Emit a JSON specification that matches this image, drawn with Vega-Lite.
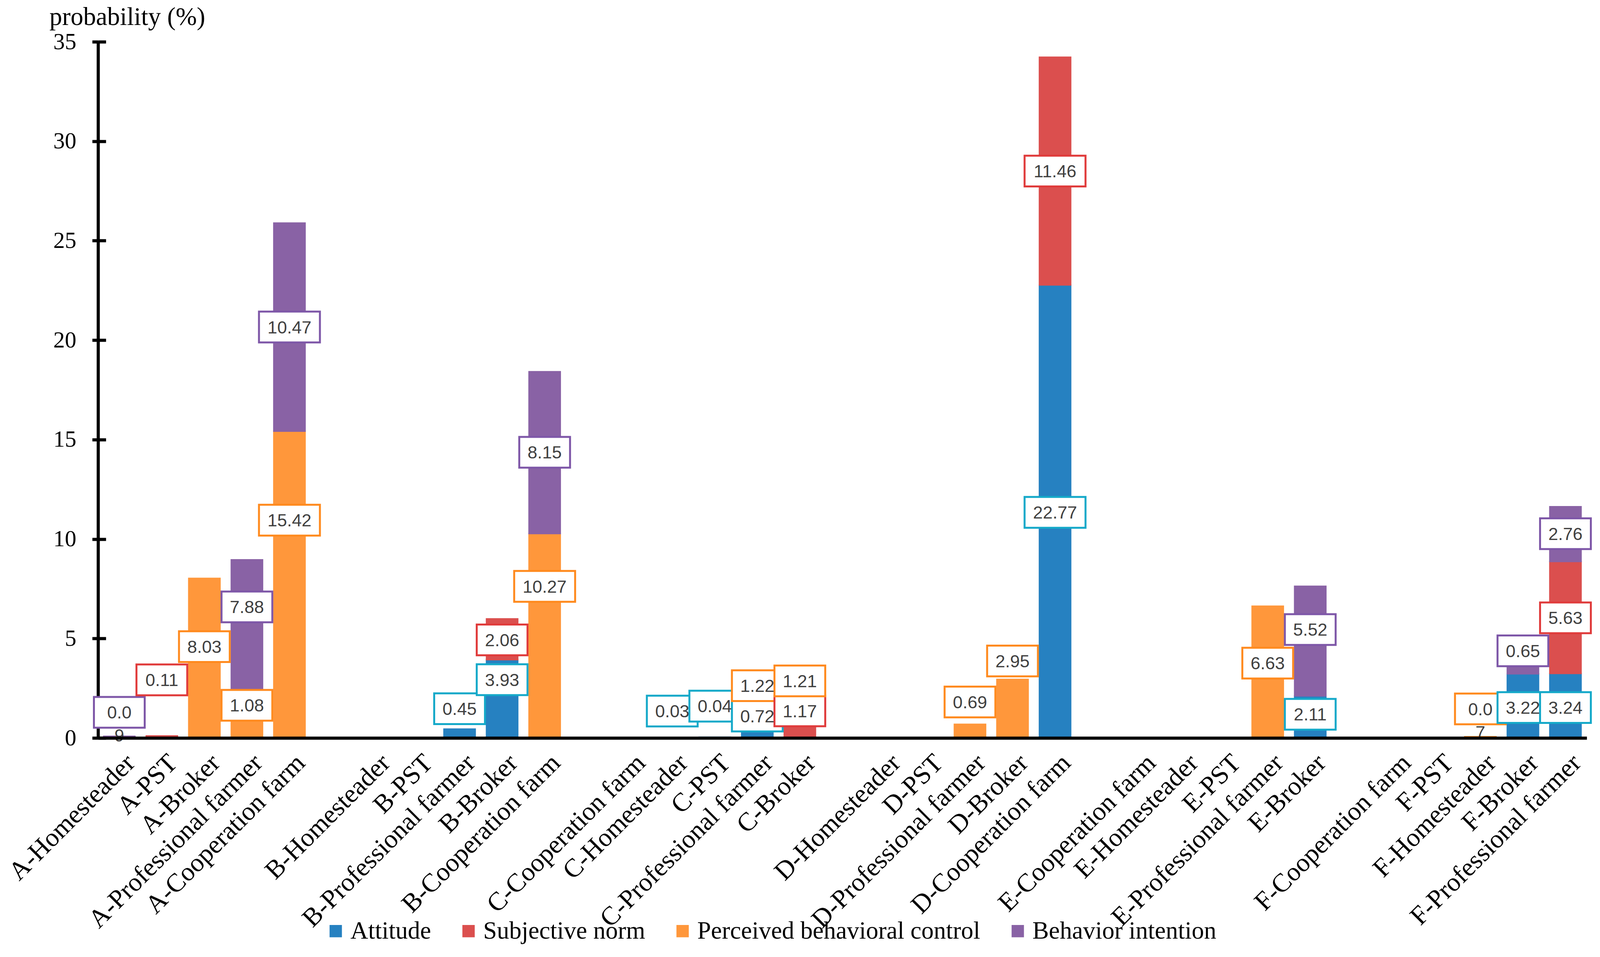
{
  "$schema": "https://vega.github.io/schema/vega-lite/v6.json",
  "width": 3811,
  "height": 1783,
  "autosize": "none",
  "padding": {"left": 251, "top": 107, "right": 35, "bottom": 532},
  "background": "white",
  "config": {
    "view": {"stroke": null},
    "font": "Liberation Serif",
    "axisY": {
      "grid": true,
      "gridColor": "black",
      "gridWidth": 8,
      "gridDash": [20, 20000],
      "gridOpacity": 1,
      "domainColor": "black",
      "domainWidth": 8,
      "tickColor": "black",
      "tickWidth": 8,
      "tickSize": 15,
      "labelFont": "Liberation Serif",
      "labelFontSize": 59,
      "labelColor": "black",
      "labelPadding": 41,
      "titleAngle": 0,
      "titleAlign": "left",
      "titleBaseline": "alphabetic",
      "titleX": -125,
      "titleY": -44,
      "titleFont": "Liberation Serif",
      "titleFontSize": 65,
      "titleFontWeight": "normal",
      "titleColor": "black",
      "zindex": 1
    }
  },
  "datasets": {
    "factors": [
      {"factor": "Attitude", "rank": 1},
      {"factor": "Subjective norm", "rank": 2},
      {"factor": "Perceived behavioral control", "rank": 3},
      {"factor": "Behavior intention", "rank": 4}
    ],
    "bars": [
      {"category": "A-Homesteader", "factor": "Behavior intention", "value": 0.09},
      {"category": "A-PST", "factor": "Subjective norm", "value": 0.11},
      {"category": "A-Broker", "factor": "Perceived behavioral control", "value": 8.03},
      {"category": "A-Professional farmer", "factor": "Perceived behavioral control", "value": 1.08},
      {"category": "A-Professional farmer", "factor": "Behavior intention", "value": 7.88},
      {"category": "A-Cooperation farm", "factor": "Perceived behavioral control", "value": 15.42},
      {"category": "A-Cooperation farm", "factor": "Behavior intention", "value": 10.47},
      {"category": "B-Professional farmer", "factor": "Attitude", "value": 0.45},
      {"category": "B-Broker", "factor": "Attitude", "value": 3.93},
      {"category": "B-Broker", "factor": "Subjective norm", "value": 2.06},
      {"category": "B-Cooperation farm", "factor": "Perceived behavioral control", "value": 10.27},
      {"category": "B-Cooperation farm", "factor": "Behavior intention", "value": 8.15},
      {"category": "C-Homesteader", "factor": "Attitude", "value": 0.03},
      {"category": "C-PST", "factor": "Attitude", "value": 0.04},
      {"category": "C-Professional farmer", "factor": "Attitude", "value": 0.72},
      {"category": "C-Professional farmer", "factor": "Perceived behavioral control", "value": 1.22},
      {"category": "C-Broker", "factor": "Subjective norm", "value": 1.17},
      {"category": "C-Broker", "factor": "Perceived behavioral control", "value": 1.21},
      {"category": "D-Professional farmer", "factor": "Perceived behavioral control", "value": 0.69},
      {"category": "D-Broker", "factor": "Perceived behavioral control", "value": 2.95},
      {"category": "D-Cooperation farm", "factor": "Attitude", "value": 22.77},
      {"category": "D-Cooperation farm", "factor": "Subjective norm", "value": 11.46},
      {"category": "E-Professional farmer", "factor": "Perceived behavioral control", "value": 6.63},
      {"category": "E-Broker", "factor": "Attitude", "value": 2.11},
      {"category": "E-Broker", "factor": "Behavior intention", "value": 5.52},
      {"category": "F-Homesteader", "factor": "Perceived behavioral control", "value": 0.07},
      {"category": "F-Broker", "factor": "Attitude", "value": 3.22},
      {"category": "F-Broker", "factor": "Behavior intention", "value": 0.65},
      {"category": "F-Professional farmer", "factor": "Attitude", "value": 3.24},
      {"category": "F-Professional farmer", "factor": "Subjective norm", "value": 5.63},
      {"category": "F-Professional farmer", "factor": "Behavior intention", "value": 2.76}
    ],
    "labels": [
      {"category": "A-Homesteader", "factor": "Behavior intention", "label": "0.0\n9", "at": 1.29},
      {"category": "A-PST", "factor": "Subjective norm", "label": "0.11", "at": 2.92},
      {"category": "A-Broker", "factor": "Perceived behavioral control", "label": "8.03", "at": 4.59},
      {"category": "A-Professional farmer", "factor": "Perceived behavioral control", "label": "1.08", "at": 1.64},
      {"category": "A-Professional farmer", "factor": "Behavior intention", "label": "7.88", "at": 6.59},
      {"category": "A-Cooperation farm", "factor": "Perceived behavioral control", "label": "15.42", "at": 10.95},
      {"category": "A-Cooperation farm", "factor": "Behavior intention", "label": "10.47", "at": 20.66},
      {"category": "B-Professional farmer", "factor": "Attitude", "label": "0.45", "at": 1.47},
      {"category": "B-Broker", "factor": "Attitude", "label": "3.93", "at": 2.93},
      {"category": "B-Broker", "factor": "Subjective norm", "label": "2.06", "at": 4.93},
      {"category": "B-Cooperation farm", "factor": "Perceived behavioral control", "label": "10.27", "at": 7.62},
      {"category": "B-Cooperation farm", "factor": "Behavior intention", "label": "8.15", "at": 14.36},
      {"category": "C-Homesteader", "factor": "Attitude", "label": "0.03", "at": 1.35},
      {"category": "C-PST", "factor": "Attitude", "label": "0.04", "at": 1.6},
      {"category": "C-Professional farmer", "factor": "Attitude", "label": "0.72", "at": 1.1},
      {"category": "C-Professional farmer", "factor": "Perceived behavioral control", "label": "1.22", "at": 2.63},
      {"category": "C-Broker", "factor": "Subjective norm", "label": "1.17", "at": 1.36},
      {"category": "C-Broker", "factor": "Perceived behavioral control", "label": "1.21", "at": 2.87},
      {"category": "D-Professional farmer", "factor": "Perceived behavioral control", "label": "0.69", "at": 1.81},
      {"category": "D-Broker", "factor": "Perceived behavioral control", "label": "2.95", "at": 3.87},
      {"category": "D-Cooperation farm", "factor": "Attitude", "label": "22.77", "at": 11.34},
      {"category": "D-Cooperation farm", "factor": "Subjective norm", "label": "11.46", "at": 28.5},
      {"category": "E-Professional farmer", "factor": "Perceived behavioral control", "label": "6.63", "at": 3.76},
      {"category": "E-Broker", "factor": "Attitude", "label": "2.11", "at": 1.19},
      {"category": "E-Broker", "factor": "Behavior intention", "label": "5.52", "at": 5.45},
      {"category": "F-Homesteader", "factor": "Perceived behavioral control", "label": "0.0\n7", "at": 1.46},
      {"category": "F-Broker", "factor": "Attitude", "label": "3.22", "at": 1.53},
      {"category": "F-Broker", "factor": "Behavior intention", "label": "0.65", "at": 4.38},
      {"category": "F-Professional farmer", "factor": "Attitude", "label": "3.24", "at": 1.53},
      {"category": "F-Professional farmer", "factor": "Subjective norm", "label": "5.63", "at": 6.04},
      {"category": "F-Professional farmer", "factor": "Behavior intention", "label": "2.76", "at": 10.27}
    ]
  },
  "encoding": {
    "x": {
      "field": "category",
      "type": "nominal",
      "title": null,
      "scale": {
        "domain": ["A-Homesteader", "A-PST", "A-Broker", "A-Professional farmer", "A-Cooperation farm", " ",
                   "B-Homesteader", "B-PST", "B-Professional farmer", "B-Broker", "B-Cooperation farm", "  ",
                   "C-Cooperation farm", "C-Homesteader", "C-PST", "C-Professional farmer", "C-Broker", "   ",
                   "D-Homesteader", "D-PST", "D-Professional farmer", "D-Broker", "D-Cooperation farm", "    ",
                   "E-Cooperation farm", "E-Homesteader", "E-PST", "E-Professional farmer", "E-Broker", "     ",
                   "F-Cooperation farm", "F-PST", "F-Homesteader", "F-Broker", "F-Professional farmer"],
        "paddingInner": 0.26,
        "paddingOuter": 0.13
      },
      "axis": {
        "labelAngle": -45,
        "labelAlign": "right",
        "labelBaseline": "top",
        "labelFont": "Liberation Serif",
        "labelFontSize": 67,
        "labelColor": "black",
        "labelLimit": 0,
        "labelPadding": 30,
        "labelOffset": 6,
        "ticks": false,
        "domainColor": "black",
        "domainWidth": 8,
        "grid": false,
        "zindex": 1
      }
    }
  },
  "layer": [
    {
      "data": {"name": "bars"},
      "transform": [
        {"lookup": "factor", "from": {"data": {"name": "factors"}, "key": "factor", "fields": ["rank"]}}
      ],
      "mark": {"type": "bar", "strokeWidth": 3},
      "encoding": {
        "y": {
          "field": "value",
          "type": "quantitative",
          "stack": "zero",
          "title": "probability (%)",
          "scale": {"domain": [0, 35], "nice": false},
          "axis": {"values": [0, 5, 10, 15, 20, 25, 30, 35]}
        },
        "order": {"field": "rank", "type": "quantitative", "sort": "ascending"},
        "color": {
          "field": "factor",
          "type": "nominal",
          "scale": {
            "domain": ["Attitude", "Subjective norm", "Perceived behavioral control", "Behavior intention"],
            "range": ["#2681C1", "#DB4F4E", "#FF973B", "#8962A5"]
          },
          "legend": {
            "orient": "none",
            "legendX": 577,
            "legendY": 2246,
            "direction": "horizontal",
            "title": null,
            "padding": 0,
            "symbolType": "square",
            "symbolSize": 1000,
            "symbolStrokeWidth": 0,
            "labelFont": "Liberation Serif",
            "labelFontSize": 63,
            "labelColor": "black",
            "labelOffset": 6,
            "labelLimit": 0,
            "columnPadding": 64
          }
        },
        "stroke": {
          "field": "factor",
          "type": "nominal",
          "scale": {
            "domain": ["Attitude", "Subjective norm", "Perceived behavioral control", "Behavior intention"],
            "range": ["#2681C1", "#DB4F4E", "#FF973B", "#8962A5"]
          },
          "legend": null
        }
      }
    },
    {
      "data": {"name": "labels"},
      "mark": {"type": "point", "filled": true, "fill": "white", "strokeWidth": 5, "opacity": 1},
      "encoding": {
        "y": {"field": "at", "type": "quantitative", "title": "probability (%)", "scale": {"domain": [0, 35], "nice": false}},
        "shape": {
          "condition": {"test": "test(/^\\d\\d\\./, datum.label)", "value": "M-1,-0.506H1V0.506H-1Z"},
          "value": "M-1,-0.606H1V0.606H-1Z"
        },
        "size": {
          "condition": {"test": "test(/^\\d\\d\\./, datum.label)", "value": 24336},
          "value": 16900
        },
        "stroke": {
          "field": "factor",
          "type": "nominal",
          "scale": {
            "domain": ["Attitude", "Subjective norm", "Perceived behavioral control", "Behavior intention"],
            "range": ["#15A9C9", "#E03B3B", "#FF8A1E", "#7E57A8"]
          },
          "legend": null
        }
      }
    },
    {
      "data": {"name": "labels"},
      "mark": {
        "type": "text",
        "font": "Liberation Sans",
        "fontSize": 45,
        "color": "#404040",
        "baseline": "top",
        "dy": -20,
        "lineBreak": "\n",
        "lineHeight": 59
      },
      "encoding": {
        "y": {"field": "at", "type": "quantitative", "title": "probability (%)", "scale": {"domain": [0, 35], "nice": false}},
        "text": {"field": "label", "type": "nominal"}
      }
    }
  ],
  "resolve": {"scale": {"stroke": "independent"}}
}
